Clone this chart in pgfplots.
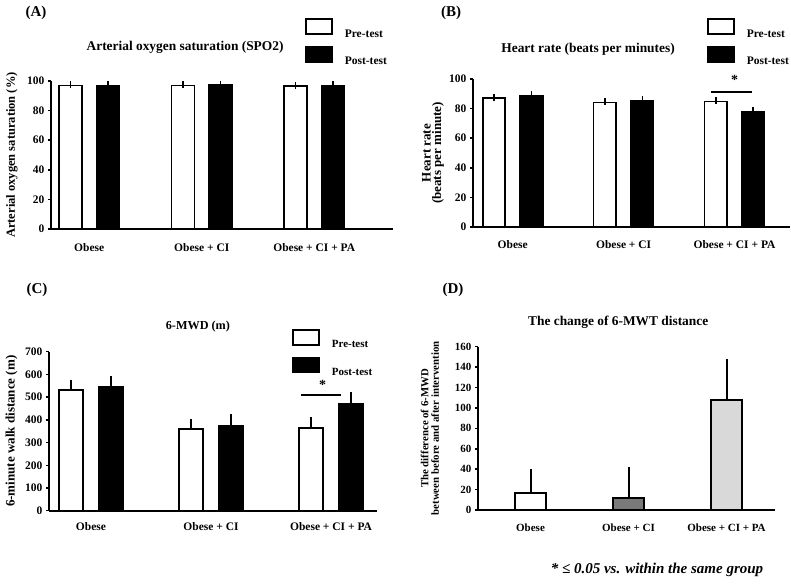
\documentclass[border=0pt]{standalone}
\usepackage{pgfplots}
\pgfplotsset{compat=1.18}
\usepackage{fontspec}
\setmainfont{Liberation Serif}
\definecolor{midgray}{HTML}{7A7A7A}
\definecolor{lightgray2}{HTML}{D9D9D9}
\pgfplotsset{
  panel/.style={
    scale only axis, anchor=south west,
    axis lines=left, axis line style={-, line width=1.8pt, black},
    ymin=0, clip=false,
    xtick={0,1,2}, xticklabels={Obese, Obese + CI, Obese + CI + PA},
    xtick style={draw=none},
    ytick style={line width=1.5pt, black},
    tick align=outside, major tick length=3pt,
    /pgf/number format/assume math mode=true,
    error bars/y dir=plus, error bars/y explicit,
    error bars/error bar style={line width=1.6pt, black},
    error bars/error mark options={line width=1.6pt, mark size=3.5pt, black},
    legend style={draw=none, fill=none, inner sep=0pt, row sep=7.5pt, column sep=12pt,
      nodes={inner sep=0pt}, anchor=north west},
    legend cell align=left,
  },
  prebar/.style={ybar, bar width=#1, bar shift=0pt, fill=white, draw=black, line width=1.6pt, forget plot},
  postbar/.style={ybar, bar width=#1, bar shift=0pt, fill=black, draw=black, line width=1.6pt, forget plot},
  preleg/.style={legend image code/.code={\draw[line width=1.6pt,fill=white] (0pt,0pt) rectangle (26pt,15pt);}},
  postleg/.style={legend image code/.code={\draw[line width=1.6pt,fill=black] (0pt,0pt) rectangle (26pt,15pt);}},
}
\begin{document}
\begin{tikzpicture}[x=1pt,y=1pt]
\path[use as bounding box] (0,0) rectangle (791,587);
% ---------- (A)
\begin{axis}[panel, at={(51pt,358pt)}, width=342pt, height=148pt,
  xmin=-0.34, xmax=2.70, ymax=100, ytick={0,20,...,100},
  tick label style={font=\bfseries\fontsize{11.5}{13}\selectfont},
  xticklabel style={yshift=-8pt},
  title={Arterial oxygen saturation (SPO2)},
  title style={at={(0.392,1.189)}, anchor=center, font=\bfseries\fontsize{13.4}{15}\selectfont},
  ylabel={Arterial oxygen saturation (\%)},
  every axis y label/.style={at={(-0.114,0.5)}, rotate=90, anchor=center, font=\bfseries\fontsize{12.5}{14}\selectfont},
  legend style={at={(0.7427,1.4257)}, font=\bfseries\fontsize{11.5}{13}\selectfont},
]
\addplot[prebar=23pt] coordinates {(-0.1667,97.0) +- (0,0.4) (0.8333,97.0) +- (0,0.4) (1.8333,96.7) +- (0,0.4)};
\addplot[postbar=23pt] coordinates {(0.1667,97.0) +- (0,0.4) (1.1667,97.1) +- (0,0.4) (2.1667,97.0) +- (0,0.4)};
\addlegendimage{preleg}\addlegendentry{Pre-test}
\addlegendimage{postleg}\addlegendentry{Post-test}
\end{axis}
% ---------- (B)
\begin{axis}[panel, at={(473pt,360pt)}, width=317pt, height=148pt,
  xmin=-0.358, xmax=2.50, ymax=100, ytick={0,20,...,100},
  tick label style={font=\bfseries\fontsize{11.5}{13}\selectfont},
  xticklabel style={yshift=-7pt},
  title={Heart rate (beats per minutes)},
  title style={at={(0.363,1.162)}, anchor=center, font=\bfseries\fontsize{13.4}{15}\selectfont},
  ylabel={Heart rate\\(beats per minute)},
  every axis y label/.style={at={(-0.126,0.5)}, rotate=90, anchor=center, align=center, font=\bfseries\fontsize{13}{10.5}\selectfont},
  legend style={at={(0.738,1.412)}, font=\bfseries\fontsize{11.5}{13}\selectfont},
]
\addplot[prebar=22.5pt] coordinates {(-0.169,87.2) +- (0,0.6) (0.831,84.2) +- (0,0.7) (1.831,84.7) +- (0,0.9)};
\addplot[postbar=22.5pt] coordinates {(0.169,88.7) +- (0,0.8) (1.169,85.6) +- (0,0.7) (2.169,77.9) +- (0,0.5)};
\addlegendimage{preleg}\addlegendentry{Pre-test}
\addlegendimage{postleg}\addlegendentry{Post-test}
\draw[line width=1.6pt] (axis cs:1.786,91.4) -- (axis cs:2.158,91.4);
\node[anchor=base, font=\bfseries\fontsize{14}{16}\selectfont] at (axis cs:2.0,96.3) {*};
\end{axis}
% ---------- (C)
\begin{axis}[panel, at={(49pt,76.3pt)}, width=328pt, height=159pt,
  xmin=-0.35, xmax=2.383, ymax=700, ytick={0,100,...,700},
  tick label style={font=\bfseries\fontsize{11.5}{13}\selectfont},
  xticklabel style={yshift=-5pt},
  title={6-MWD (m)},
  title style={at={(0.454,1.119)}, anchor=center, font=\bfseries\fontsize{12.2}{14}\selectfont},
  ylabel={6-minute walk distance (m)},
  every axis y label/.style={at={(-0.114,0.5)}, rotate=90, anchor=center, font=\bfseries\fontsize{13}{15}\selectfont},
  legend style={at={(0.741,1.143)}, font=\bfseries\fontsize{11}{13}\selectfont},
]
\addplot[prebar=24pt] coordinates {(-0.1667,531) +- (0,29) (0.8333,361) +- (0,28) (1.8333,364) +- (0,32)};
\addplot[postbar=24pt] coordinates {(0.1667,544) +- (0,34) (1.1667,373) +- (0,36) (2.1667,472) +- (0,34)};
\addlegendimage{preleg}\addlegendentry{Pre-test}
\addlegendimage{postleg}\addlegendentry{Post-test}
\draw[line width=1.6pt] (axis cs:1.75,509) -- (axis cs:2.083,509);
\node[anchor=base, font=\bfseries\fontsize{14}{16}\selectfont] at (axis cs:1.93,535) {*};
\end{axis}
% ---------- (D)
\begin{axis}[panel, at={(478pt,77pt)}, width=297pt, height=163.3pt,
  xmin=-0.536, xmax=2.495, ymax=160, ytick={0,20,...,160},
  tick label style={font=\bfseries\fontsize{11}{13}\selectfont},
  xticklabel style={yshift=-7pt},
  title={The change of 6-MWT distance},
  title style={at={(0.472,1.113)}, anchor=center, font=\bfseries\fontsize{13.4}{15}\selectfont},
  ylabel={The difference of 6-MWD\\between before and after intervention},
  every axis y label/.style={at={(-0.162,0.5)}, rotate=90, anchor=center, align=center, font=\bfseries\fontsize{10.8}{10.5}\selectfont},
  error bars/error bar style={line width=2pt, black},
  error bars/error mark options={line width=2pt, mark size=2.5pt, black},
]
\addplot[ybar, bar width=31pt, bar shift=0pt, fill=white, draw=black, line width=2pt, forget plot] coordinates {(0,16.3) +- (0,21.3)};
\addplot[ybar, bar width=31pt, bar shift=0pt, fill=midgray, draw=black, line width=2pt, forget plot] coordinates {(1,11.4) +- (0,28.4)};
\addplot[ybar, bar width=31pt, bar shift=0pt, fill=lightgray2, draw=black, line width=2pt, forget plot] coordinates {(2,107.8) +- (0,37.5)};
\end{axis}
% ---------- panel letters and footnote
\node[font=\bfseries\fontsize{15}{17}\selectfont] at (36,574) {(A)};
\node[font=\bfseries\fontsize{15}{17}\selectfont] at (451,574) {(B)};
\node[font=\bfseries\fontsize{15}{17}\selectfont] at (37,297) {(C)};
\node[font=\bfseries\fontsize{15}{17}\selectfont] at (453,297) {(D)};
\node[font=\bfseries\itshape\fontsize{15}{17}\selectfont] at (657,17) {* ≤ 0.05 vs. within the same group};
\end{tikzpicture}
\end{document}
